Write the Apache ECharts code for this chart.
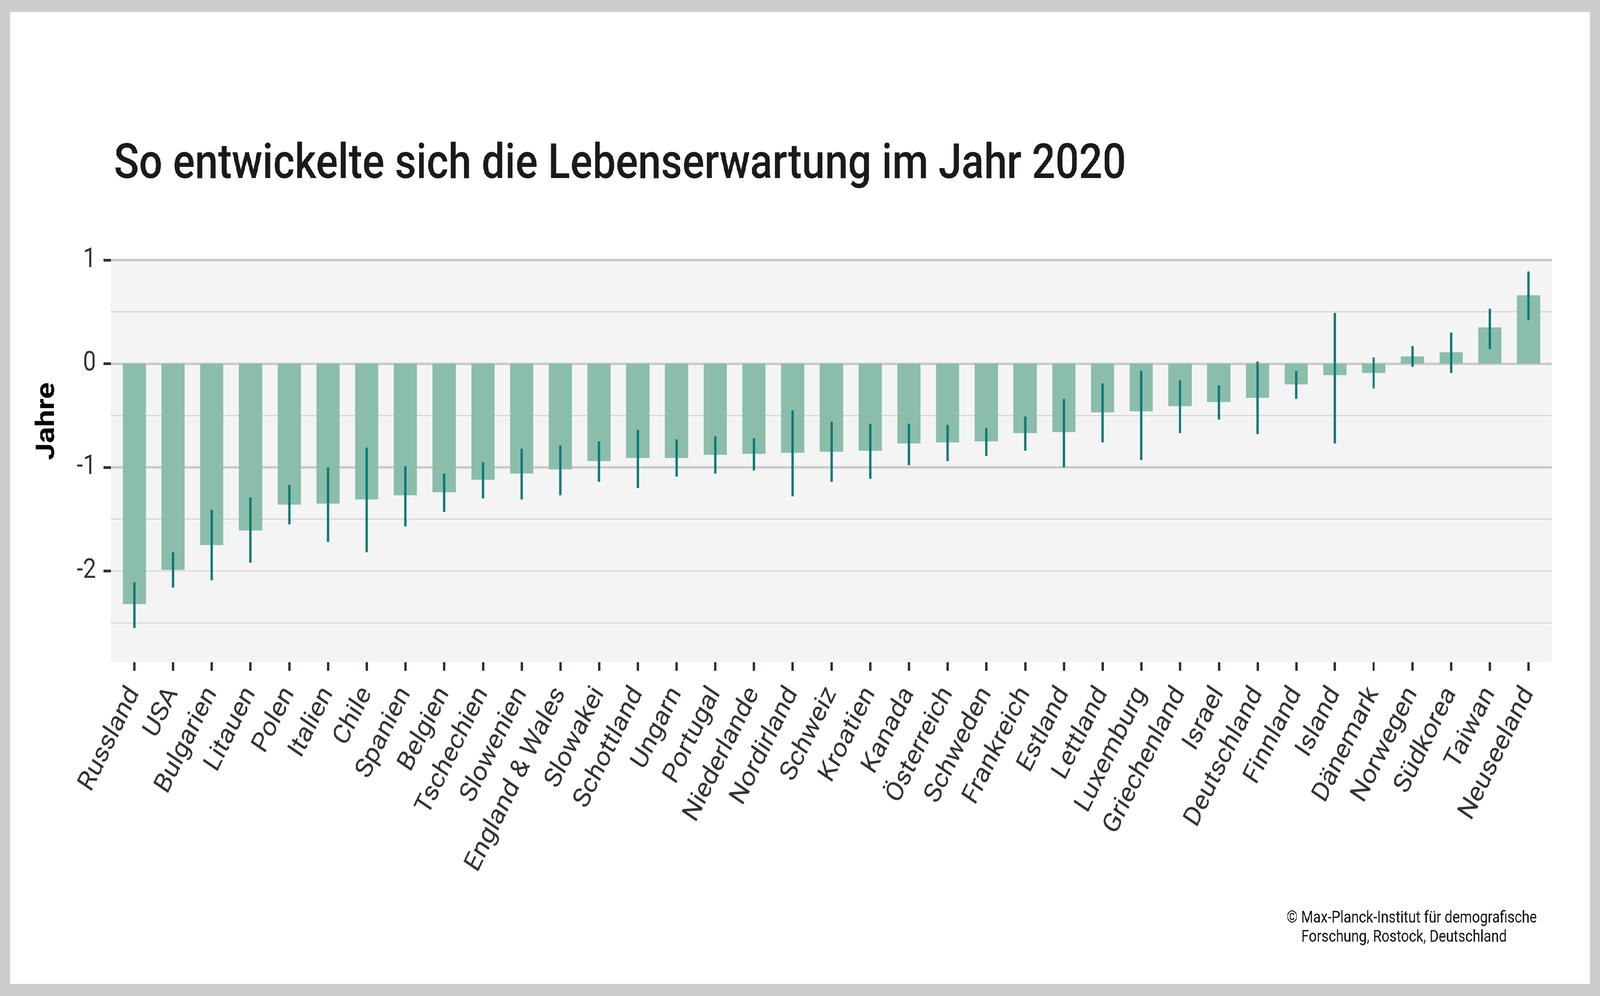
<!DOCTYPE html>
<html>
<head>
<meta charset="utf-8">
<script src="https://cdn.jsdelivr.net/npm/echarts@6/dist/echarts.min.js"></script>
<style>
  html, body { margin: 0; padding: 0; background: #ffffff; overflow: hidden; }
  #stage { position: absolute; left: 0; top: 0; width: 4831px; height: 2551px; transform-origin: 0 0; }
  #chart { position: absolute; left: 0; top: 0; width: 4831px; height: 2551px; }
  #frame { position: absolute; left: 0; top: 0; width: 4831px; height: 2551px; box-sizing: border-box;
           border: 31px solid #cccccc; pointer-events: none; }
</style>
</head>
<body>
<div id="stage">
  <div id="chart"></div>
  <div id="frame"></div>
</div>
<script>
const categories = ["Russland","USA","Bulgarien","Litauen","Polen","Italien","Chile","Spanien","Belgien","Tschechien","Slowenien","England & Wales","Slowakei","Schottland","Ungarn","Portugal","Niederlande","Nordirland","Schweiz","Kroatien","Kanada","Österreich","Schweden","Frankreich","Estland","Lettland","Luxemburg","Griechenland","Israel","Deutschland","Finnland","Island","Dänemark","Norwegen","Südkorea","Taiwan","Neuseeland"];
const values = [-2.32,-1.99,-1.75,-1.61,-1.36,-1.35,-1.31,-1.27,-1.24,-1.12,-1.06,-1.02,-0.94,-0.91,-0.91,-0.88,-0.87,-0.86,-0.85,-0.84,-0.77,-0.76,-0.75,-0.67,-0.66,-0.47,-0.46,-0.41,-0.37,-0.33,-0.20,-0.11,-0.09,0.07,0.11,0.35,0.66];
const lows = [-2.55,-2.16,-2.09,-1.92,-1.55,-1.72,-1.82,-1.57,-1.43,-1.30,-1.31,-1.27,-1.14,-1.20,-1.09,-1.06,-1.03,-1.28,-1.14,-1.11,-0.98,-0.94,-0.89,-0.84,-1.00,-0.76,-0.93,-0.67,-0.54,-0.68,-0.34,-0.77,-0.24,-0.03,-0.09,0.14,0.42];
const highs = [-2.11,-1.82,-1.41,-1.29,-1.17,-1.00,-0.81,-0.99,-1.06,-0.95,-0.82,-0.79,-0.75,-0.64,-0.73,-0.70,-0.72,-0.45,-0.56,-0.58,-0.58,-0.59,-0.62,-0.51,-0.34,-0.19,-0.07,-0.16,-0.21,0.02,-0.07,0.49,0.06,0.17,0.30,0.53,0.89];
const yTickValues = [-2, -1, 0, 1];
const titleText = "So entwickelte sich die Lebenserwartung im Jahr 2020";
const yAxisTitle = "Jahre";
const sourceLine1 = "© Max-Planck-Institut für demografische";
const sourceLine2 = "Forschung, Rostock, Deutschland";

const DESIGN_W = 4831, DESIGN_H = 2551;
const Y_MIN = -2.88, Y_MAX = 1;
const FONT = "Roboto, 'Noto Sans', sans-serif";

// fit the 4831x2551 design into whatever viewport the browser really has
const stage = document.getElementById('stage');
const sx = (window.innerWidth || DESIGN_W) / DESIGN_W;
const sy = (window.innerHeight || DESIGN_H) / DESIGN_H;
stage.style.transform = 'scale(' + sx + ',' + sy + ')';

const chart = echarts.init(document.getElementById('chart'), null, { renderer: 'canvas', width: DESIGN_W, height: DESIGN_H });

const errData = categories.map((c, i) => [i, lows[i], highs[i]]);

const option = {
  backgroundColor: '#ffffff',
  animation: false,
  title: [
    { text: titleText, left: 339, top: 357,
      textStyle: { fontFamily: FONT, fontSize: 125, fontWeight: 500, color: '#1a1a1a' } },
    { text: sourceLine1, left: 3880, top: 2326,
      textStyle: { fontFamily: FONT, fontSize: 42, fontWeight: 'normal', color: '#111111' } },
    { text: sourceLine2, left: 3924, top: 2375,
      textStyle: { fontFamily: FONT, fontSize: 42, fontWeight: 'normal', color: '#111111' } }
  ],
  grid: [
    { left: 335, right: 145, top: 666, bottom: 855, show: true, backgroundColor: '#f4f4f4', borderWidth: 0 },
    { left: 347.1, right: 157.1, top: 666, bottom: 855, show: false }
  ],
  xAxis: [
    { gridIndex: 0, type: 'value', min: 0, max: 1, show: false },
    { gridIndex: 1, type: 'category', data: categories, boundaryGap: true, position: 'bottom',
      axisLine: { show: false, onZero: false },
      axisTick: { show: true, alignWithLabel: true, length: 22, lineStyle: { color: '#2b303a', width: 7 } },
      axisLabel: { rotate: 60, margin: 70, fontFamily: FONT, fontSize: 72, color: '#333333', interval: 0 } }
  ],
  yAxis: [
    { gridIndex: 0, type: 'value', position: 'left', min: Y_MIN, max: Y_MAX, splitNumber: 8,
      axisLine: { show: false }, axisTick: { show: false }, axisLabel: { show: false },
      splitLine: { show: true, showMinLine: false, showMaxLine: false, lineStyle: { color: '#d2d2d2', width: 2.5 } } },
    { gridIndex: 0, type: 'value', position: 'left', offset: 0, min: Y_MIN, max: Y_MAX, splitNumber: 4,
      axisLine: { show: false },
      axisTick: { show: true, length: 22, customValues: yTickValues, lineStyle: { color: '#2b303a', width: 7 } },
      axisLabel: { show: true, customValues: yTickValues, margin: 45, fontFamily: FONT, fontSize: 70, color: '#333333' },
      splitLine: { show: true, showMinLine: false, lineStyle: { color: '#c9c9c9', width: 6 } } },
    { gridIndex: 1, type: 'value', position: 'left', min: Y_MIN, max: Y_MAX, show: false, splitLine: { show: false } }
  ],
  graphic: [
    { type: 'text', x: 143, y: 1079, rotation: Math.PI / 2,
      style: { text: yAxisTitle, fontFamily: FONT, fontSize: 78, fontWeight: 'bold', fill: '#000000',
               textAlign: 'center', textVerticalAlign: 'middle' } }
  ],
  series: [
    { type: 'bar', xAxisIndex: 1, yAxisIndex: 2, data: values, barWidth: '60%',
      itemStyle: { color: '#8abdaa' }, silent: true, z: 2 },
    { type: 'custom', xAxisIndex: 1, yAxisIndex: 2, data: errData, z: 3, silent: true,
      renderItem: function (params, api) {
        const x = api.value(0);
        const p1 = api.coord([x, api.value(1)]);
        const p2 = api.coord([x, api.value(2)]);
        return { type: 'line', shape: { x1: p1[0], y1: p1[1], x2: p2[0], y2: p2[1] },
                 style: { stroke: '#0b7a76', lineWidth: 7 } };
      } }
  ]
};
chart.setOption(option);
</script>
</body>
</html>
